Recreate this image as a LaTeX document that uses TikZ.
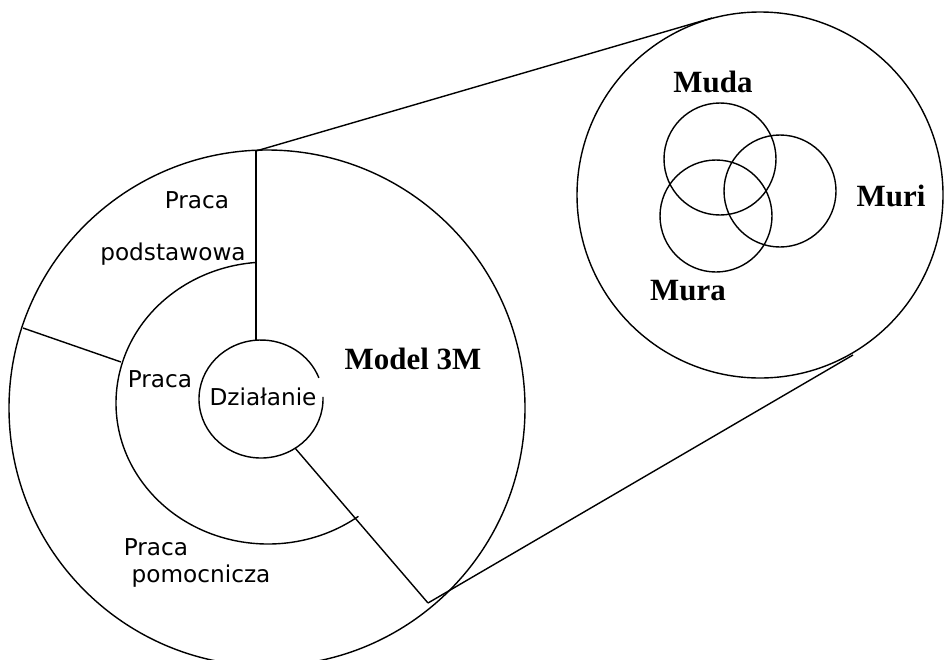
\documentclass[tikz,border=0pt]{standalone}
\usepackage{fontspec}
\setmainfont{DejaVu Sans}
\newfontfamily\szeryf{Liberation Serif}
\tikzset{
  obrys/.style = {black, line width=0.8pt},
  opis/.style  = {font=\fontsize{13.2}{15}\selectfont, anchor=base, inner sep=0pt},
  haslo/.style = {font=\szeryf\bfseries\fontsize{17.6}{20}\selectfont, anchor=base, inner sep=0pt}
}

\begin{document}
\begin{tikzpicture}[x=0.02cm, y=-0.02cm]
  \clip (0,0) rectangle (945,659);

  \coordinate (S1) at (267,408);   % duze kolo
  \coordinate (S2) at (268,403);   % pierscien srodkowy
  \coordinate (S3) at (261,399);   % male kolo
  \coordinate (S4) at (760,195);   % powiekszenie

  % kola
  \draw[obrys] (S1) circle[radius=258];
  \draw[obrys] (S4) circle[radius=183];
  \draw[obrys] (S2) ++(53.5:152 and 141)
    arc[start angle=53.5, end angle=265.5, x radius=152, y radius=141];
  \draw[obrys] (S3) ++(-2:62 and 59)
    arc[start angle=-2, end angle=339, x radius=62, y radius=59];

  % podzialy
  \coordinate (g1) at (256,151);
  \coordinate (g2) at (256,340);
  \coordinate (l1) at (23,328);
  \coordinate (l2) at (121,362);
  \coordinate (d1) at (295,448);
  \coordinate (d2) at (428,603);
  \draw[obrys] (g1) -- (g2);
  \draw[obrys] (l1) -- (l2);
  \draw[obrys] (d1) -- (d2);

  % linie do powiekszenia
  \coordinate (p1) at (712,18);
  \coordinate (p2) at (853,355);
  \draw[obrys] (g1) -- (p1);
  \draw[obrys] (d2) -- (p2);

  % 3M
  \draw[obrys] (720,159) circle[radius=56];
  \draw[obrys] (780,191) circle[radius=56];
  \draw[obrys] (716,216) circle[radius=56];

  \node[opis] (pp1) at (197,208) {Praca};
  \node[opis] (pp2) at (173,260) {podstawowa};
  \node[opis] (pr)  at (160,387) {Praca};
  \node[opis] (dz)  at (263,405) {Działanie};
  \node[opis] (pm1) at (156,555) {Praca};
  \node[opis] (pm2) at (201,582) {pomocnicza};

  \node[haslo] (m3m)  at (413,369) {Model 3M};
  \node[haslo] (muda) at (713,92)  {Muda};
  \node[haslo] (muri) at (891,206) {Muri};
  \node[haslo] (mura) at (688,300) {Mura};
\end{tikzpicture}
\end{document}
